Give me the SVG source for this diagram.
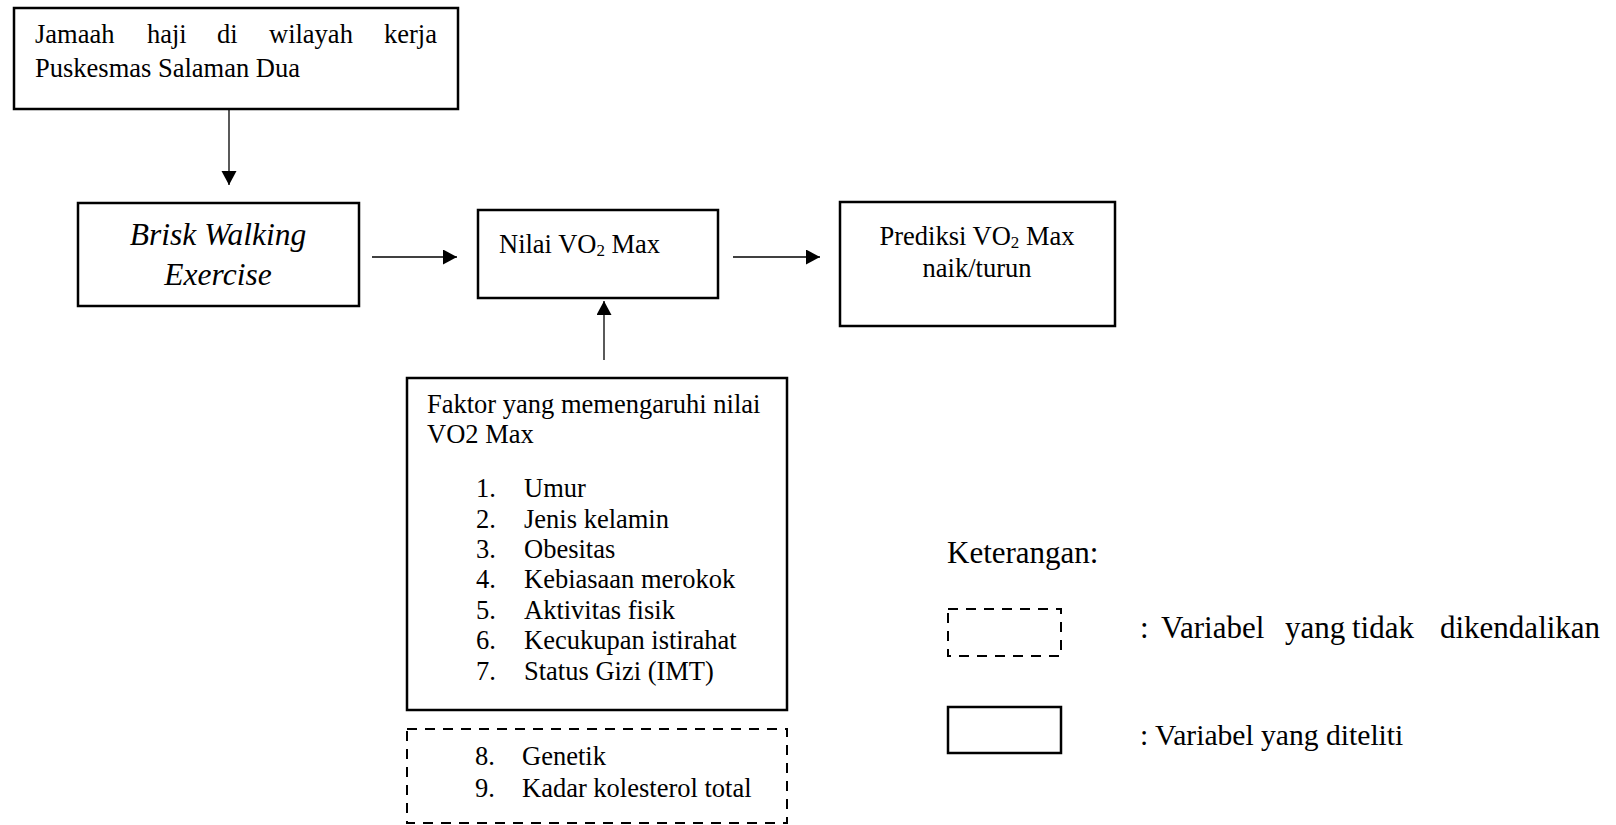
<svg xmlns="http://www.w3.org/2000/svg" width="1616" height="825" viewBox="0 0 1616 825" font-family="'Liberation Serif', 'Times New Roman', Tinos, serif">
<style>
.box{fill:#fff;stroke:#000;stroke-width:2.5}
.dash{fill:none;stroke:#000;stroke-width:2;stroke-dasharray:10 8}
.conn{stroke:#000;stroke-width:1.3;fill:none}
.t{font-size:26.5px}
.b{font-size:31.5px;font-style:italic}
.sub{font-size:17px}
</style>
<defs>
<marker id="ah" markerUnits="userSpaceOnUse" markerWidth="16" markerHeight="16" refX="14" refY="7.5" orient="auto">
<path d="M0,0 L14,7.5 L0,15 Z" fill="#000"/>
</marker>
</defs>
<rect width="1616" height="825" fill="#fff"/>

<g id="connectors">
<line class="conn" x1="229" y1="109" x2="229" y2="185" marker-end="url(#ah)"/>
<line class="conn" x1="372" y1="257" x2="457" y2="257" marker-end="url(#ah)"/>
<line class="conn" x1="733" y1="257" x2="820" y2="257" marker-end="url(#ah)"/>
<line class="conn" x1="604" y1="360" x2="604" y2="301" marker-end="url(#ah)"/>
</g>

<g id="node-jamaah">
<rect class="box" x="14" y="8" width="444" height="101"/>
<text class="t" y="43"><tspan x="35">Jamaah</tspan><tspan x="147">haji</tspan><tspan x="217">di</tspan><tspan x="269">wilayah</tspan><tspan x="384">kerja</tspan></text>
<text class="t" x="35" y="77">Puskesmas Salaman Dua</text>
</g>

<g id="node-brisk">
<rect class="box" x="78" y="203" width="281" height="103"/>
<text class="b" x="218" y="245" text-anchor="middle">Brisk Walking</text>
<text class="b" x="218" y="285" text-anchor="middle">Exercise</text>
</g>

<g id="node-nilai">
<rect class="box" x="478" y="210" width="240" height="88"/>
<text class="t" x="499" y="253">Nilai VO<tspan class="sub" dy="3">2</tspan><tspan dy="-3"> Max</tspan></text>
</g>

<g id="node-prediksi">
<rect class="box" x="840" y="202" width="275" height="124"/>
<text class="t" x="977" y="245" text-anchor="middle">Prediksi VO<tspan class="sub" dy="3">2</tspan><tspan dy="-3"> Max</tspan></text>
<text class="t" x="977" y="277" text-anchor="middle">naik/turun</text>
</g>

<g id="node-faktor">
<rect class="box" x="407" y="378" width="380" height="332"/>
<text class="t" x="427" y="413">Faktor yang memengaruhi nilai</text>
<text class="t" x="427" y="443">VO2 Max</text>
<text class="t" x="476" y="497">1.</text>
<text class="t" x="524" y="497">Umur</text>
<text class="t" x="476" y="528">2.</text>
<text class="t" x="524" y="528">Jenis kelamin</text>
<text class="t" x="476" y="558">3.</text>
<text class="t" x="524" y="558">Obesitas</text>
<text class="t" x="476" y="588">4.</text>
<text class="t" x="524" y="588">Kebiasaan merokok</text>
<text class="t" x="476" y="619">5.</text>
<text class="t" x="524" y="619">Aktivitas fisik</text>
<text class="t" x="476" y="649">6.</text>
<text class="t" x="524" y="649">Kecukupan istirahat</text>
<text class="t" x="476" y="680">7.</text>
<text class="t" x="524" y="680">Status Gizi (IMT)</text>
</g>

<g id="node-faktor-lain">
<rect class="dash" x="407" y="729" width="380" height="94"/>
<text class="t" x="475" y="765">8.</text>
<text class="t" x="522" y="765">Genetik</text>
<text class="t" x="475" y="797">9.</text>
<text class="t" x="522" y="797">Kadar kolesterol total</text>
</g>

<g id="legend">
<text x="947" y="563" font-size="31">Keterangan:</text>
<rect class="dash" x="948" y="609" width="113" height="47"/>
<text y="638" font-size="31"><tspan x="1140">:</tspan><tspan x="1161">Variabel</tspan><tspan x="1285">yang</tspan><tspan x="1352">tidak</tspan><tspan x="1440">dikendalikan</tspan></text>
<rect class="box" x="948" y="707" width="113" height="46"/>
<text x="1140" y="745" font-size="29.6">: Variabel yang diteliti</text>
</g>
</svg>
